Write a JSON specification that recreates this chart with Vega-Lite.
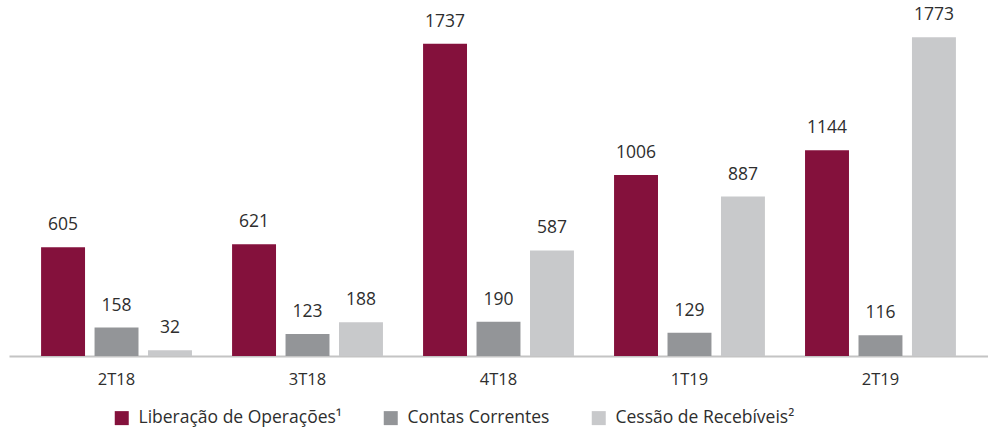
{
  "$schema": "https://vega.github.io/schema/vega-lite/v6.json",
  "width": 979,
  "height": 356,
  "autosize": "none",
  "padding": {"left": 9, "top": 0, "right": 0, "bottom": 72},
  "background": "white",
  "config": {"view": {"stroke": null}, "font": "Open Sans"},
  "data": {
    "values": [
      {"periodo": "2T18", "serie": "Liberação de Operações¹", "valor": 605},
      {"periodo": "2T18", "serie": "Contas Correntes", "valor": 158},
      {"periodo": "2T18", "serie": "Cessão de Recebíveis²", "valor": 32},
      {"periodo": "3T18", "serie": "Liberação de Operações¹", "valor": 621},
      {"periodo": "3T18", "serie": "Contas Correntes", "valor": 123},
      {"periodo": "3T18", "serie": "Cessão de Recebíveis²", "valor": 188},
      {"periodo": "4T18", "serie": "Liberação de Operações¹", "valor": 1737},
      {"periodo": "4T18", "serie": "Contas Correntes", "valor": 190},
      {"periodo": "4T18", "serie": "Cessão de Recebíveis²", "valor": 587},
      {"periodo": "1T19", "serie": "Liberação de Operações¹", "valor": 1006},
      {"periodo": "1T19", "serie": "Contas Correntes", "valor": 129},
      {"periodo": "1T19", "serie": "Cessão de Recebíveis²", "valor": 887},
      {"periodo": "2T19", "serie": "Liberação de Operações¹", "valor": 1144},
      {"periodo": "2T19", "serie": "Contas Correntes", "valor": 116},
      {"periodo": "2T19", "serie": "Cessão de Recebíveis²", "valor": 1773}
    ]
  },
  "encoding": {
    "x": {
      "field": "periodo",
      "type": "nominal",
      "sort": ["2T18", "3T18", "4T18", "1T19", "2T19"],
      "scale": {"paddingInner": 0.21, "paddingOuter": 0.168},
      "axis": {
        "title": null,
        "labelAngle": 0,
        "domainColor": "#c4c4c4",
        "domainWidth": 2,
        "ticks": false,
        "grid": false,
        "labelFontSize": 16.5,
        "labelColor": "#2e2e2e",
        "labelPadding": 15
      }
    },
    "xOffset": {
      "field": "serie",
      "type": "nominal",
      "sort": ["Liberação de Operações¹", "Contas Correntes", "Cessão de Recebíveis²"],
      "scale": {"paddingInner": 0.178}
    },
    "y": {
      "field": "valor",
      "type": "quantitative",
      "scale": {"domain": [0, 1980], "nice": false},
      "axis": null
    }
  },
  "layer": [
    {
      "mark": {"type": "bar"},
      "encoding": {
        "color": {
          "field": "serie",
          "type": "nominal",
          "sort": ["Liberação de Operações¹", "Contas Correntes", "Cessão de Recebíveis²"],
          "scale": {
            "domain": ["Liberação de Operações¹", "Contas Correntes", "Cessão de Recebíveis²"],
            "range": ["#84113c", "#939598", "#c8c9cb"]
          },
          "legend": {
            "title": null,
            "orient": "none",
            "direction": "horizontal",
            "legendX": 104,
            "legendY": 409,
            "symbolType": "square",
            "symbolSize": 196,
            "symbolStrokeWidth": 0,
            "symbolOpacity": 1,
            "labelFontSize": 17.5,
            "labelColor": "#2e2e2e",
            "labelOffset": 8,
            "columnPadding": 40,
            "labelLimit": 400
          }
        }
      }
    },
    {
      "mark": {"type": "text", "dy": -22, "fontSize": 17.5, "color": "#2e2e2e"},
      "encoding": {"text": {"field": "valor", "type": "quantitative"}}
    }
  ]
}
